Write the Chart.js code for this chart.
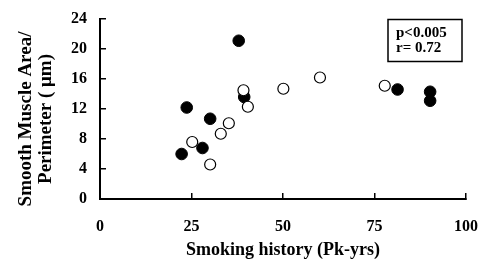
<!DOCTYPE html>
<html>
<head>
<meta charset="utf-8">
<script src="https://cdn.jsdelivr.net/npm/chart.js@4/dist/chart.umd.min.js"></script>
<style>
html,body{margin:0;padding:0;background:#fff;}
canvas{display:block;}
</style>
</head>
<body>
<canvas id="c" width="483" height="263"></canvas>
<script>
// Open circles
const openX = [25.2, 30.1, 33.0, 35.2, 39.2, 40.4, 50.1, 60.1, 77.8];
const openY = [7.6, 4.6, 8.7, 10.1, 14.5, 12.3, 14.7, 16.2, 15.1];
// Filled circles
const filledX = [22.3, 23.7, 28.0, 30.1, 37.9, 39.4, 81.3, 90.2, 90.2];
const filledY = [6.0, 12.2, 6.8, 10.7, 21.1, 13.6, 14.6, 14.3, 13.1];
const xTicks = [0, 25, 50, 75, 100];
const yTicks = [0, 4, 8, 12, 16, 20, 24];
const xTitle = "Smoking history (Pk-yrs)";
const yTitle = ["Smooth Muscle Area/", "Perimeter ( \u03bcm)"];
const statLines = ["p<0.005", "r= 0.72"];

const SERIF = "'Liberation Serif', 'Times New Roman', serif";

const extras = {
  id: 'extras',
  afterDraw(chart) {
    const ctx = chart.ctx;
    ctx.save();
    ctx.fillStyle = '#000';
    ctx.font = "bold 19px " + SERIF;
    ctx.textAlign = 'center';
    ctx.textBaseline = 'middle';
    ctx.translate(26, 119);
    ctx.rotate(-Math.PI / 2);
    ctx.fillText(yTitle[0], 0, 0);
    ctx.fillText(yTitle[1], 0, 20);
    ctx.restore();

    ctx.save();
    ctx.strokeStyle = '#000';
    ctx.lineWidth = 1.5;
    ctx.strokeRect(388, 19.5, 74, 42);
    ctx.fillStyle = '#000';
    ctx.font = "bold 15px " + SERIF;
    ctx.textAlign = 'left';
    ctx.textBaseline = 'middle';
    ctx.fillText(statLines[0], 396, 33);
    ctx.fillText(statLines[1], 396, 48);
    ctx.restore();
  }
};

new Chart(document.getElementById('c'), {
  type: 'scatter',
  data: {
    datasets: [
      {
        label: 'open',
        data: openX.map((x, i) => ({x: x, y: openY[i]})),
        pointRadius: 5.5,
        pointBackgroundColor: '#fff',
        pointBorderColor: '#000',
        pointBorderWidth: 1.2
      },
      {
        label: 'filled',
        data: filledX.map((x, i) => ({x: x, y: filledY[i]})),
        pointRadius: 5.8,
        pointBackgroundColor: '#000',
        pointBorderColor: '#000',
        pointBorderWidth: 1
      }
    ]
  },
  options: {
    responsive: false,
    devicePixelRatio: 1,
    animation: false,
    layout: { padding: { top: 19, right: 17, left: 0, bottom: 0 } },
    plugins: { legend: { display: false }, tooltip: { enabled: false } },
    scales: {
      x: {
        type: 'linear',
        min: 0, max: 100,
        afterBuildTicks(scale) { scale.ticks = xTicks.map(v => ({value: v})); },
        afterFit(scale) { scale.height = 64; scale.paddingLeft = 0; scale.paddingRight = 0; },
        border: { display: true, color: '#000', width: 2 },
        grid: { drawOnChartArea: false, drawTicks: true, tickLength: -6, color: '#000', lineWidth: 1.5 },
        ticks: { color: '#000', font: { family: SERIF, size: 16, weight: 'bold' }, padding: 24, maxRotation: 0 },
        title: { display: true, text: xTitle, color: '#000', font: { family: SERIF, size: 18, weight: 'bold' }, padding: { top: 0, bottom: 2 } }
      },
      y: {
        type: 'linear',
        min: 0, max: 24,
        afterBuildTicks(scale) { scale.ticks = yTicks.map(v => ({value: v})); },
        afterFit(scale) { scale.width = 100; scale.paddingTop = 0; scale.paddingBottom = 0; },
        border: { display: true, color: '#000', width: 2 },
        grid: { drawOnChartArea: false, drawTicks: true, tickLength: -6, color: '#000', lineWidth: 1.5 },
        ticks: { color: '#000', font: { family: SERIF, size: 16, weight: 'bold' }, padding: 19 },
        title: { display: false }
      }
    }
  },
  plugins: [extras]
});
</script>
</body>
</html>
